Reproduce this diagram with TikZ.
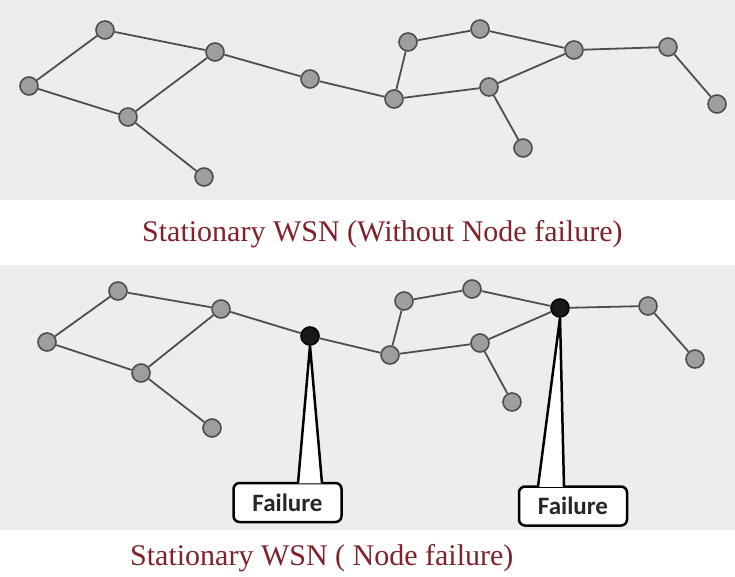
\documentclass[tikz,border=0pt]{standalone}
\usepackage{fontspec}
\setmainfont{Liberation Serif}
\newfontfamily\calloutfont{Carlito}
\usetikzlibrary{calc}

\definecolor{captionred}{RGB}{128,34,44}
\definecolor{scangray}{RGB}{237,237,240}
\definecolor{sensorgray}{RGB}{158,158,158}
\definecolor{linkgray}{RGB}{78,78,78}

\begin{document}
\begin{tikzpicture}[x=1pt, y=-1pt,
  sensor/.style={circle, draw=linkgray, fill=sensorgray, line width=1.6pt, minimum size=18pt, inner sep=0pt},
  dead/.style={sensor, draw=black, fill=black!90},
  link/.style={draw=linkgray, line width=1.8pt},
  caption/.style={anchor=base west, inner sep=0pt, text=captionred, font=\fontsize{30}{36}\selectfont},
  callout/.style={rectangle, draw=black, rounded corners=6pt, line width=2.5pt, fill=white, minimum width=108pt, minimum height=39pt, text=black!85, font=\calloutfont\bfseries\fontsize{25}{30}\selectfont},
  stem/.style={draw=black, line width=2.5pt, line join=miter}]

\useasboundingbox (0,0) rectangle (735,577);
\fill[scangray] (0,0) rectangle (735,577);
\fill[white] (0,200) rectangle (735,265);
\fill[white] (0,530) rectangle (735,577);

% without node failure
\node[sensor] (t1) at (105,30) {};
\node[sensor] (t2) at (29,86) {};
\node[sensor] (t3) at (128,117) {};
\node[sensor] (t4) at (215,52) {};
\node[sensor] (t5) at (310,79) {};
\node[sensor] (t6) at (204,177) {};
\node[sensor] (t7) at (394,99) {};
\node[sensor] (t8) at (408,42) {};
\node[sensor] (t9) at (480,29) {};
\node[sensor] (t10) at (574,50) {};
\node[sensor] (t11) at (668,47) {};
\node[sensor] (t12) at (717,104) {};
\node[sensor] (t13) at (489,87) {};
\node[sensor] (t14) at (523,148) {};

\draw[link] (t1) -- (t2);
\draw[link] (t1) -- (t4);
\draw[link] (t2) -- (t3);
\draw[link] (t3) -- (t4);
\draw[link] (t3) -- (t6);
\draw[link] (t4) -- (t5);
\draw[link] (t5) -- (t7);
\draw[link] (t7) -- (t8);
\draw[link] (t8) -- (t9);
\draw[link] (t9) -- (t10);
\draw[link] (t7) -- (t13);
\draw[link] (t13) -- (t10);
\draw[link] (t13) -- (t14);
\draw[link] (t10) -- (t11);
\draw[link] (t11) -- (t12);

\node[caption] (cap1) at (142,241) {Stationary WSN (Without Node failure)};

% node failure
\node[sensor] (b1) at (118,291) {};
\node[sensor] (b2) at (47,342) {};
\node[sensor] (b3) at (141,373) {};
\node[sensor] (b4) at (221,309) {};
\node[dead] (b5) at (310,336) {};
\node[sensor] (b6) at (212,428) {};
\node[sensor] (b7) at (390,355) {};
\node[sensor] (b8) at (404,301) {};
\node[sensor] (b9) at (472,289) {};
\node[dead] (b10) at (560,308) {};
\node[sensor] (b11) at (648,306) {};
\node[sensor] (b12) at (695,359) {};
\node[sensor] (b13) at (480,343) {};
\node[sensor] (b14) at (512,402) {};

\draw[link] (b1) -- (b2);
\draw[link] (b1) -- (b4);
\draw[link] (b2) -- (b3);
\draw[link] (b3) -- (b4);
\draw[link] (b3) -- (b6);
\draw[link] (b4) -- (b5);
\draw[link] (b5) -- (b7);
\draw[link] (b7) -- (b8);
\draw[link] (b8) -- (b9);
\draw[link] (b9) -- (b10);
\draw[link] (b7) -- (b13);
\draw[link] (b13) -- (b10);
\draw[link] (b13) -- (b14);
\draw[link] (b10) -- (b11);
\draw[link] (b11) -- (b12);

\node[callout] (fail1) at (287.5,502.5) {Failure};
\node[callout] (fail2) at (573,506) {Failure};

\coordinate (f1l) at ($(fail1.north)+(10.5,1.5)$);
\coordinate (f1r) at ($(fail1.north)+(34.5,1.5)$);
\coordinate (f2l) at ($(fail2.north)+(-35,1.5)$);
\coordinate (f2r) at ($(fail2.north)+(-9,1.5)$);

\fill[white] (f1l) -- (b5.south) -- (f1r) -- cycle;
\draw[stem] (f1l) -- (b5.south) -- (f1r);
\fill[white] (f2l) -- (b10.south) -- (f2r) -- cycle;
\draw[stem] (f2l) -- (b10.south) -- (f2r);

\node[caption] (cap2) at (130,565) {Stationary WSN ( Node failure)};

\end{tikzpicture}
\end{document}
